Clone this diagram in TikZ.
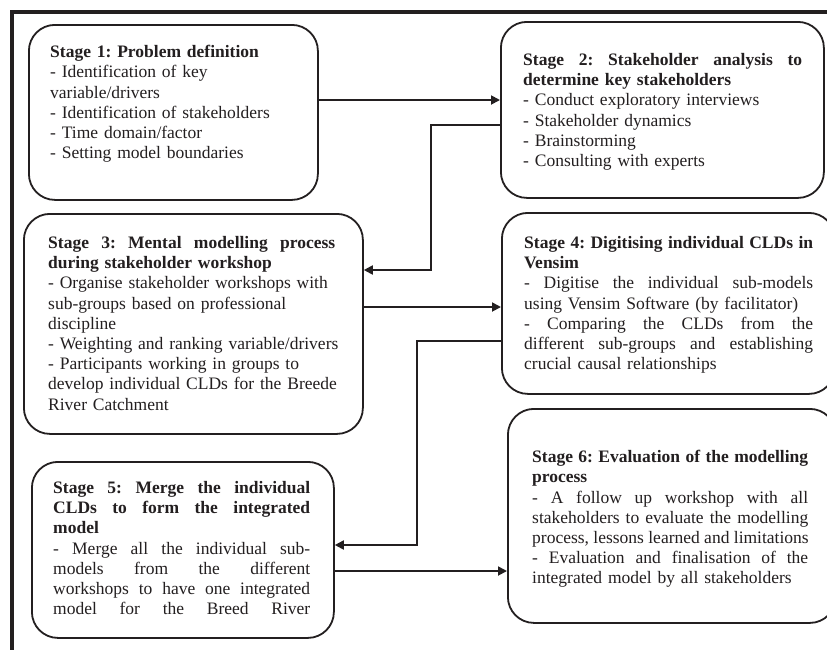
\documentclass[tikz,border=0pt]{standalone}
\usepackage{fontspec}
\setmainfont{Liberation Serif}
\usetikzlibrary{arrows.meta}
\definecolor{ink}{HTML}{231F20}
\frenchspacing
% width of the current text block; justified and ragged lines use it
\newlength{\blockw}
\newcommand{\jl}[1]{\leavevmode\hbox to \blockw{\spaceskip=0.25em plus 1fil\relax #1}}
\newcommand{\rl}[1]{\leavevmode\hbox to \blockw{#1\hfil}}
\tikzset{
  stagebox/.style={draw=ink, line width=1.8pt, rounded corners=26pt, inner sep=0pt, anchor=north west},
  stagetext/.style={anchor=north west, inner sep=0pt, align=left, text=ink,
    text width=#1, execute at begin node={\setlength{\blockw}{#1}},
    font=\fontsize{17.5pt}{20.2pt}\selectfont},
  conn/.style={draw=ink, line width=1.8pt, -{Triangle[length=9pt,width=9pt]}},
}
\begin{document}
\begin{tikzpicture}[x=1pt,y=-1pt]
\useasboundingbox (0,0) rectangle (827,649);
\clip (0,0) rectangle (827,649);
\fill[white] (0,0) rectangle (827,649);
% frame
\draw[ink, line width=3.5pt] (12,652) -- (12,12) -- (830,12);

% stage boxes
\node[stagebox, minimum width=289pt, minimum height=175pt] (s1) at (28,24) {};
\node[stagebox, minimum width=323pt, minimum height=176pt] (s2) at (500,21) {};
\node[stagebox, minimum width=339pt, minimum height=220pt] (s3) at (23,213) {};
\node[stagebox, minimum width=333pt, minimum height=181pt] (s4) at (501,212) {};
\node[stagebox, minimum width=302pt, minimum height=176pt] (s5) at (31,461) {};
\node[stagebox, minimum width=328pt, minimum height=214pt] (s6) at (507,408) {};

% texts
\node[stagetext=260pt] (t1) at (50,45.2) {%
\rl{\textbf{Stage 1: Problem definition}}\\
\rl{- Identification of key}\\
\rl{variable/drivers}\\
\rl{- Identification of stakeholders}\\
\rl{- Time domain/factor}\\
\rl{- Setting model boundaries}};

\node[stagetext=279pt] (t2) at (523,53.2) {%
\jl{\textbf{Stage 2: Stakeholder analysis to}}\\
\rl{\textbf{determine key stakeholders}}\\
\rl{- Conduct exploratory interviews}\\
\rl{- Stakeholder dynamics}\\
\rl{- Brainstorming}\\
\rl{- Consulting with experts}};

\node[stagetext=287pt] (t3) at (48,236.2) {%
\jl{\textbf{Stage 3: Mental modelling process}}\\
\rl{\textbf{during stakeholder workshop}}\\
\rl{- Organise stakeholder workshops with}\\
\rl{sub-groups based on professional}\\
\rl{discipline}\\
\rl{- Weighting and ranking variable/drivers}\\
\rl{- Participants working in groups to}\\
\rl{develop individual CLDs for the Breede}\\
\rl{River Catchment}};

\node[stagetext=289pt] (t4) at (524,236.2) {%
\jl{\textbf{Stage 4: Digitising individual CLDs in}}\\
\rl{\textbf{Vensim}}\\
\jl{- Digitise the individual sub-models}\\
\rl{using Vensim Software (by facilitator)}\\
\jl{- Comparing the CLDs from the}\\
\jl{different sub-groups and establishing}\\
\rl{crucial causal relationships}};

\node[stagetext=257pt] (t5) at (53,481.2) {%
\jl{\textbf{Stage 5: Merge the individual}}\\
\jl{\textbf{CLDs to form the integrated}}\\
\rl{\textbf{model}}\\
\jl{- Merge all the individual sub-}\\
\jl{models from the different}\\
\jl{workshops to have one integrated}\\
\jl{model for the Breed River}};

\node[stagetext=276pt] (t6) at (532,450.2) {%
\jl{\textbf{Stage 6: Evaluation of the modelling}}\\
\rl{\textbf{process}}\\
\jl{- A follow up workshop with all}\\
\jl{stakeholders to evaluate the modelling}\\
\jl{process, lessons learned and limitations}\\
\jl{- Evaluation and finalisation of the}\\
\rl{integrated model by all stakeholders}};

% connectors
\coordinate (k23) at (431,0);
\coordinate (k45) at (417,0);
\draw[conn] (s1.east |- 0,100) -- (s2.west |- 0,100);
\draw[conn] (s2.west |- 0,125) -- (k23 |- 0,125) -- (k23 |- 0,270) -- (s3.east |- 0,270);
\draw[conn] (s3.east |- 0,307) -- (s4.west |- 0,307);
\draw[conn] (s4.west |- 0,341) -- (k45 |- 0,341) -- (k45 |- 0,545) -- (s5.east |- 0,545);
\draw[conn] (s5.east |- 0,571) -- (s6.west |- 0,571);
\end{tikzpicture}
\end{document}
